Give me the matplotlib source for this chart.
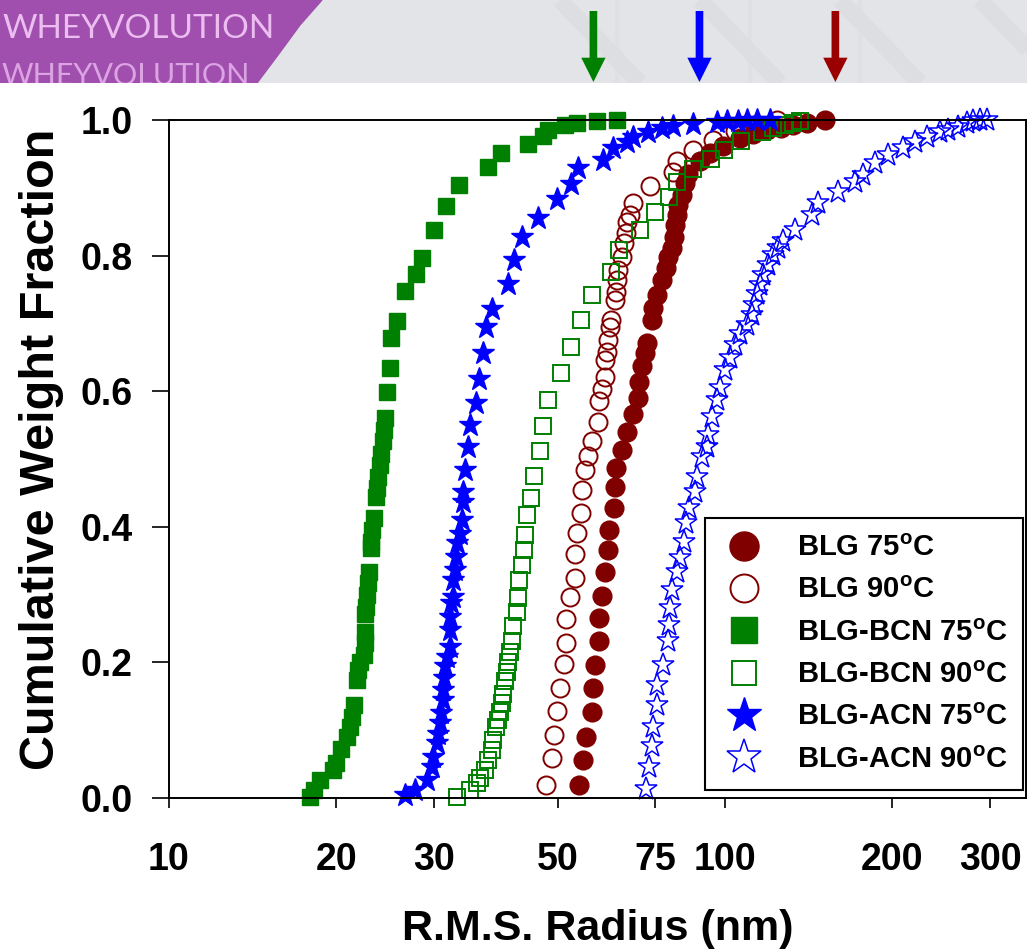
import matplotlib
matplotlib.use('Agg')
import matplotlib.pyplot as plt
from matplotlib.patches import Polygon, Rectangle

plt.rcParams['font.family'] = ['Liberation Sans', 'DejaVu Sans']
plt.rcParams['font.weight'] = 'bold'
plt.rcParams['mathtext.fontset'] = 'custom'
plt.rcParams['mathtext.rm'] = 'Liberation Sans:bold'
plt.rcParams['mathtext.bf'] = 'Liberation Sans:bold'
plt.rcParams['mathtext.it'] = 'Liberation Sans:bold'
plt.rcParams['mathtext.default'] = 'rm'

# ---------------- data ----------------
blg75_x = [54.6, 55.6, 56.2, 57.6, 57.8, 58.4, 59.4, 59.4, 60.0, 60.8, 61.5, 61.8, 63.2, 63.4, 63.8,
           65.2, 66.6, 68.4, 69.8, 70.0, 70.8, 71.8, 72.3, 73.8, 74.1, 75.4, 76.9, 78.5, 79.0, 80.2,
           80.9, 81.3, 82.1, 82.4, 83.6, 84.7, 85.9, 90.2, 94.0, 99.3, 106.4, 112.4, 118.8, 126.4,
           132.7, 140.2, 151.3]
blg75_y = [0.019, 0.056, 0.090, 0.127, 0.162, 0.196, 0.232, 0.265, 0.298, 0.334, 0.366, 0.396, 0.427,
           0.458, 0.486, 0.513, 0.540, 0.566, 0.590, 0.613, 0.637, 0.656, 0.671, 0.705, 0.722, 0.742,
           0.764, 0.781, 0.798, 0.811, 0.828, 0.845, 0.860, 0.875, 0.889, 0.907, 0.921, 0.939, 0.951,
           0.961, 0.973, 0.980, 0.985, 0.988, 0.993, 0.996, 1.000]

blg90_x = [47.6, 48.8, 49.2, 49.9, 50.6, 51.4, 51.8, 51.8, 52.6, 53.7, 53.7, 54.3, 55.2, 55.4, 56.0,
           56.8, 57.7, 59.0, 59.3, 60.0, 60.8, 60.8, 61.3, 61.7, 62.1, 62.5, 63.4, 63.8, 63.9, 64.3,
           65.2, 65.8, 66.4, 66.6, 67.5, 68.4, 73.3, 80.7, 81.9, 87.7, 95.3, 104.2, 113.2, 123.9]
blg90_y = [0.019, 0.059, 0.093, 0.128, 0.162, 0.197, 0.229, 0.264, 0.297, 0.324, 0.360, 0.391, 0.421,
           0.454, 0.484, 0.504, 0.527, 0.555, 0.585, 0.603, 0.621, 0.646, 0.658, 0.676, 0.695, 0.705,
           0.735, 0.747, 0.764, 0.779, 0.798, 0.818, 0.833, 0.850, 0.860, 0.877, 0.902, 0.924, 0.939,
           0.956, 0.971, 0.984, 0.993, 1.000]

bcn75_x = [17.9, 18.2, 18.7, 19.7, 20.0, 20.4, 20.9, 21.2, 21.3, 21.5, 21.8, 21.9, 22.1, 22.4, 22.5,
           22.5, 22.5, 22.6, 22.7, 22.8, 22.9, 23.1, 23.1, 23.2, 23.4, 23.6, 23.7, 23.8, 24.0, 24.1,
           24.3, 24.4, 24.5, 24.7, 25.0, 25.1, 25.7, 26.6, 27.8, 28.5, 30.0, 31.5, 33.2, 37.5, 39.5,
           44.3, 47.1, 48.1, 51.6, 54.3, 58.9, 64.0]
bcn75_y = [0.002, 0.012, 0.027, 0.041, 0.051, 0.073, 0.090, 0.105, 0.120, 0.137, 0.174, 0.189, 0.201,
           0.211, 0.228, 0.245, 0.272, 0.282, 0.299, 0.317, 0.334, 0.368, 0.378, 0.395, 0.413, 0.444,
           0.457, 0.474, 0.491, 0.508, 0.526, 0.543, 0.560, 0.599, 0.634, 0.678, 0.704, 0.748, 0.773,
           0.797, 0.838, 0.873, 0.904, 0.930, 0.951, 0.965, 0.976, 0.985, 0.993, 0.996, 0.998, 1.000]

bcn90_x = [32.9, 34.8, 35.8, 36.3, 37.0, 37.5, 38.1, 38.3, 38.8, 39.1, 39.4, 39.7, 39.9, 40.2, 40.5,
           40.8, 41.0, 41.4, 41.6, 42.2, 42.5, 42.7, 43.2, 43.5, 43.7, 44.0, 44.7, 45.3, 46.5, 47.1,
           48.1, 50.7, 52.8, 55.2, 57.6, 62.5, 64.5, 70.3, 74.8, 79.4, 82.0, 87.7, 94.4, 99.6, 106.7,
           116.4, 122.1, 128.2, 132.7, 136.4]
bcn90_y = [0.002, 0.012, 0.022, 0.029, 0.041, 0.056, 0.071, 0.086, 0.105, 0.115, 0.127, 0.140, 0.154,
           0.172, 0.186, 0.201, 0.216, 0.231, 0.253, 0.275, 0.295, 0.322, 0.344, 0.366, 0.388, 0.418,
           0.442, 0.475, 0.512, 0.549, 0.587, 0.627, 0.665, 0.705, 0.742, 0.776, 0.808, 0.838, 0.865,
           0.887, 0.909, 0.927, 0.942, 0.956, 0.969, 0.983, 0.988, 0.993, 0.996, 0.998]

acn75_x = [26.6, 27.7, 29.1, 29.7, 29.9, 30.3, 30.5, 30.7, 30.9, 31.1, 31.1, 31.2, 31.4, 31.6, 32.0,
           32.0, 32.0, 32.2, 32.4, 32.4, 32.7, 32.8, 32.9, 33.4, 33.6, 33.8, 33.8, 34.1, 34.5, 34.8,
           35.7, 36.1, 36.7, 37.1, 38.1, 40.8, 41.8, 43.2, 46.2, 49.8, 52.8, 54.5, 60.4, 63.0, 66.6,
           68.4, 72.8, 76.9, 80.7, 87.7, 96.6, 100.7, 105.4, 109.4, 114.0, 120.5]
acn75_y = [0.004, 0.012, 0.027, 0.046, 0.061, 0.081, 0.095, 0.110, 0.125, 0.145, 0.159, 0.177, 0.194,
           0.208, 0.223, 0.248, 0.267, 0.287, 0.297, 0.322, 0.336, 0.356, 0.376, 0.390, 0.410, 0.437,
           0.452, 0.484, 0.518, 0.550, 0.582, 0.618, 0.656, 0.695, 0.721, 0.758, 0.794, 0.827, 0.856,
           0.883, 0.905, 0.929, 0.941, 0.959, 0.968, 0.975, 0.983, 0.988, 0.991, 0.994, 0.997, 0.998,
           0.998, 1.000, 1.000, 1.000]

acn90_x = [72.1, 73.0, 74.0, 74.3, 75.4, 75.5, 77.4, 79.0, 79.3, 79.6, 80.4, 82.1, 83.0, 84.4, 85.0,
           86.2, 88.3, 88.9, 90.8, 92.7, 93.3, 94.6, 96.6, 97.9, 100.0, 102.1, 104.2, 106.4, 109.4,
           111.7, 112.7, 114.0, 115.6, 117.2, 119.6, 122.1, 124.7, 127.3, 133.6, 143.2, 147.1, 159.9,
           171.3, 177.3, 186.1, 196.6, 209.2, 219.6, 230.5, 243.5, 252.1, 262.7, 272.0, 279.6, 287.4,
           295.5]
acn90_y = [0.014, 0.046, 0.076, 0.105, 0.137, 0.167, 0.196, 0.231, 0.255, 0.280, 0.307, 0.334, 0.354,
           0.378, 0.405, 0.427, 0.452, 0.474, 0.503, 0.518, 0.535, 0.562, 0.587, 0.604, 0.631, 0.649,
           0.668, 0.685, 0.698, 0.712, 0.727, 0.744, 0.757, 0.771, 0.786, 0.801, 0.811, 0.821, 0.838,
           0.860, 0.877, 0.894, 0.909, 0.919, 0.936, 0.948, 0.958, 0.968, 0.975, 0.983, 0.985, 0.990,
           0.995, 0.999, 1.000, 1.000]

series_labels = ["BLG 75$^{o}$C", "BLG 90$^{o}$C", "BLG-BCN 75$^{o}$C", "BLG-BCN 90$^{o}$C",
                 "BLG-ACN 75$^{o}$C", "BLG-ACN 90$^{o}$C"]
x_ticks = [10, 20, 30, 50, 75, 100, 200, 300]
x_tick_labels = ["10", "20", "30", "50", "75", "100", "200", "300"]
y_ticks = [0.0, 0.2, 0.4, 0.6, 0.8, 1.0]
y_tick_labels = ["0.0", "0.2", "0.4", "0.6", "0.8", "1.0"]
arrow_x = [58, 90, 158]
arrow_colors = ["#008000", "#0000ff", "#9b0000"]
x_label = "R.M.S. Radius (nm)"
y_label = "Cumulative Weight Fraction"
banner_text = "WHEYVOLUTION"

# ---------------- figure ----------------
W, H = 1027, 951
fig = plt.figure(figsize=(W / 100, H / 100), dpi=100)
fig.patch.set_facecolor('white')

# banner (decorative header)
ban = fig.add_axes([0, 1 - 83 / H, 1, 83 / H], zorder=0)
ban.set_xlim(0, W)
ban.set_ylim(83, 0)
ban.axis('off')
ban.add_patch(Rectangle((0, 0), W, 83, color='#e2e4e7', zorder=0))
for x0 in [560, 700, 840, 980]:
    ban.plot([x0, x0 + 80], [0, 83], color='#d6d8db', lw=12, alpha=0.45,
             solid_capstyle='butt', zorder=1)
for x0 in [617, 750, 860]:
    ban.plot([x0, x0], [0, 83], color='#dcdee1', lw=3, alpha=0.5, zorder=1)
ban.add_patch(Polygon([(0, 0), (322, 0), (300, 25), (278, 55), (257, 83), (0, 83)],
                      closed=True, color='#a04fae', zorder=2))
ban.text(2, 38, banner_text, color='#ecbdf0', fontsize=24, fontweight='normal',
         family=['Lato', 'DejaVu Sans'], zorder=3)
ban.text(2, 85, banner_text, color='#dca3e3', fontsize=22, fontweight='normal',
         family=['Lato', 'DejaVu Sans'], zorder=3, clip_on=True)

# main axes
ax = fig.add_axes([169 / W, (H - 798) / H, (1026 - 169) / W, (798 - 120) / H], zorder=1)
ax.set_xscale('log')
ax.set_xlim(10, 348)
ax.set_ylim(0, 1.0)

red, green, blue = '#800000', '#008000', '#0000ff'
kw = dict(linestyle='none', clip_on=False)
ax.plot(blg75_x, blg75_y, marker='o', ms=13.5, mfc=red, mec=red, mew=1, label=series_labels[0], **kw)
ax.plot(blg90_x, blg90_y, marker='o', ms=13, mfc='none', mec=red, mew=1.4, label=series_labels[1], **kw)
ax.plot(bcn75_x, bcn75_y, marker='s', ms=12, mfc=green, mec=green, mew=1, label=series_labels[2], **kw)
ax.plot(bcn90_x, bcn90_y, marker='s', ms=11.5, mfc='none', mec=green, mew=1.4, label=series_labels[3], **kw)
ax.plot(acn75_x, acn75_y, marker='*', ms=17, mfc=blue, mec=blue, mew=1, label=series_labels[4], **kw)
ax.plot(acn90_x, acn90_y, marker='*', ms=17, mfc='none', mec=blue, mew=1.1, label=series_labels[5], **kw)

ax.set_xticks(x_ticks)
ax.set_xticklabels(x_tick_labels)
ax.xaxis.set_minor_locator(matplotlib.ticker.NullLocator())
ax.set_yticks(y_ticks)
ax.set_yticklabels(y_tick_labels)
ax.tick_params(axis='x', direction='out', length=7, width=1.2, pad=25, labelsize=27)
ax.tick_params(axis='y', direction='out', length=12, width=1.2, pad=14, labelsize=27)
for s in ax.spines.values():
    s.set_linewidth(1.4)
    s.set_color('black')

ax.set_xlabel(x_label, fontsize=31, fontweight='bold')
ax.set_ylabel(y_label, fontsize=35, fontweight='bold')
ax.xaxis.set_label_coords(0.5, -0.164)
ax.yaxis.set_label_coords(-0.122, 0.515)

leg = ax.legend(loc='upper left', bbox_to_anchor=((705 - 169) / 857, (798 - 518) / 678),
                fontsize=21, markerscale=1.55, frameon=True, fancybox=False,
                edgecolor='black', borderaxespad=0, handlelength=1.6,
                handletextpad=1.0, labelspacing=0.49, borderpad=0.55, framealpha=1)
leg.get_frame().set_linewidth(1.5)

# arrows in the header, placed on the data x scale
for xv, c in zip(arrow_x, arrow_colors):
    ax.annotate('', xy=(xv, H - 82), xycoords=('data', 'figure pixels'),
                xytext=(xv, H - 11), textcoords=('data', 'figure pixels'),
                arrowprops=dict(width=5.5, headwidth=17.5, headlength=17.5,
                                facecolor=c, edgecolor='none', shrink=0),
                annotation_clip=False)

fig.savefig('out.png', dpi=100)
